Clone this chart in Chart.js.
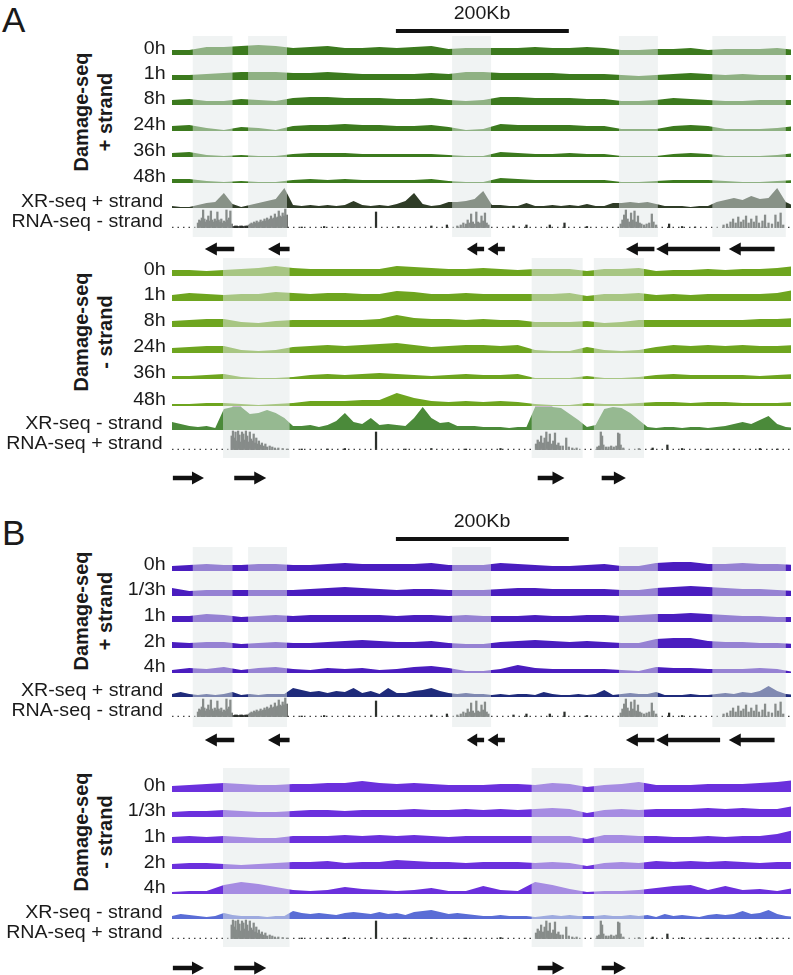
<!DOCTYPE html>
<html>
<head>
<meta charset="utf-8">
<script src="https://cdn.jsdelivr.net/npm/chart.js@4.4.1/dist/chart.umd.min.js"></script>
<style>
  body { margin: 0; background: #fff; }
  #fig { position: relative; width: 793px; height: 975px; overflow: hidden;
         font-family: "Liberation Sans", Arial, sans-serif; color: #1a1a1a; }
  #fig canvas { position: absolute; left: 0; }
  .lab { position: absolute; font-size: 18.5px; line-height: 18.5px; white-space: nowrap;
         transform-origin: right center; transform: scaleX(1.06); }
  .side { position: absolute; font-weight: bold; font-size: 20px; line-height: 24px; text-align: center;
          white-space: nowrap; transform: translate(-50%, -50%) rotate(-90deg); }
  .panel { position: absolute; left: 2px; font-size: 35px; line-height: 35px; }
  .bar-lab { position: absolute; font-size: 18.5px; line-height: 18.5px; white-space: nowrap;
             transform: translateX(-50%) scaleX(1.06); }
</style>
</head>
<body>
<div id="fig">
  <div class="panel" style="top:2px">A</div>
  <div class="panel" style="top:515px">B</div>
  <div class="side" style="left:93px;top:112px">Damage-seq<br>+ strand</div>
  <div class="side" style="left:93px;top:332px">Damage-seq<br>- strand</div>
  <div class="side" style="left:93px;top:611px">Damage-seq<br>+ strand</div>
  <div class="side" style="left:93px;top:832px">Damage-seq<br>- strand</div>
</div>
<script>
// ---- genomic bins (kb) ----
const pos20 = [0,20,40,60,80,100,120,140,160,180,200,220,240,260,280,300,320,340,360,380,400,420,440,460,480,500,520,540,560,580,600,620,640,660,680,700,720];
const pos10 = [0,10,20,30,40,50,60,70,80,90,100,110,120,130,140,150,160,170,180,190,200,210,220,230,240,250,260,270,280,290,300,310,320,330,340,350,360,370,380,390,400,410,420,430,440,450,460,470,480,490,500,510,520,530,540,550,560,570,580,590,600,610,620,630,640,650,660,670,680,690,700,710,720];

const timesA = ['0h', '1h', '8h', '24h', '36h', '48h'];
const timesB = ['0h', '1/3h', '1h', '2h', '4h'];

// ---- A: Damage-seq + strand ----
const aPlus0h  = [5,5,8,8,9,10,9,7,8,9,7,7,8,7,8,9,6,7,7,7,7,8,7,7,8,7,5,5,6,6,7,5,6,6,6,7,5];
const aPlus1h  = [5,5,6,7,8,8,8,7,7,8,7,6,6,6,6,7,6,8,8,7,7,7,7,6,6,6,5,4,5,6,7,6,5,6,5,5,5];
const aPlus8h  = [5,6,4,4,6,5,4,7,8,8,7,7,7,6,6,7,5,4,5,8,8,7,7,7,6,6,4,4,5,7,6,5,4,4,5,5,5];
const aPlus24h = [5,6,3,1,4,3,1,5,6,6,7,6,6,5,5,6,4,1,2,7,6,6,6,6,5,5,2,2,2,5,6,5,2,2,2,3,5];
const aPlus36h = [4,5,2,1,2,1,1,3,4,4,4,3,3,3,3,3,2,1,1,5,4,3,3,4,3,3,1,1,1,3,4,3,1,1,1,2,4];
const aPlus48h = [4,4,2,1,2,1,1,3,4,3,4,3,3,3,3,4,2,1,1,5,4,3,3,3,3,3,1,1,2,3,3,3,2,1,1,2,3];
const aXrPlus  = [2,1,1,3,5,6,15,4,1,3,5,7,9,20,3,2,3,2,3,2,3,7,3,2,3,2,4,7,15,4,2,3,6,6,7,9,17,3,3,2,2,5,2,2,3,2,3,2,4,2,2,5,5,6,5,6,4,2,2,2,1,2,2,6,8,10,8,12,9,10,20,6,2];

// ---- A: Damage-seq - strand ----
const aMinus0h  = [6,6,5,6,7,8,10,8,7,7,7,7,7,10,9,8,7,7,8,7,6,7,7,7,5,7,7,8,5,6,6,7,6,7,7,8,10];
const aMinus1h  = [6,8,7,6,7,7,9,8,7,8,8,7,7,10,9,7,7,8,7,7,7,7,7,8,5,7,7,8,6,7,6,7,7,7,7,8,11];
const aMinus8h  = [6,7,8,8,5,4,6,7,7,7,7,7,8,12,9,8,8,7,8,7,7,5,5,5,6,4,5,7,7,7,7,7,7,7,8,8,9];
const aMinus24h = [5,6,7,7,3,2,3,6,7,8,7,8,9,10,8,6,7,8,8,7,8,3,2,2,6,3,2,3,6,8,7,8,7,8,7,7,8];
const aMinus36h = [3,3,4,5,2,1,1,2,4,5,4,5,6,5,4,3,4,5,4,4,5,1,1,1,3,1,1,2,4,5,4,4,4,4,3,4,5];
const aMinus48h = [2,2,3,3,2,1,2,3,5,5,5,6,6,13,8,5,4,5,4,5,4,2,1,1,3,2,2,3,4,4,3,4,4,3,3,3,4];
const aXrMinus  = [8,6,4,3,4,2,21,23,23,16,17,20,17,12,4,4,5,3,5,9,17,8,6,12,5,6,5,4,12,23,12,7,8,4,4,4,3,3,3,2,3,3,23,23,23,22,16,10,3,5,21,23,22,17,10,3,2,3,3,2,3,3,2,3,4,6,8,6,10,14,6,3,2];
const xrSaturation = 23;

// ---- B: Damage-seq + strand ----
const bPlus0h  = [5,6,7,6,6,7,7,6,6,7,8,7,7,7,7,8,6,6,6,8,7,6,5,5,6,7,5,5,8,9,9,7,7,8,7,7,6];
const bPlus20m = [8,5,6,6,6,6,6,6,7,8,9,8,7,6,7,7,6,6,6,7,8,8,7,7,7,7,6,6,8,9,10,9,8,7,7,6,5];
const bPlus1h  = [6,6,8,7,5,6,7,6,7,7,7,7,7,6,7,7,6,7,6,6,6,7,6,6,7,7,6,7,8,8,9,8,7,6,6,5,5];
const bPlus2h  = [6,5,6,6,4,5,6,5,5,6,7,8,7,6,6,7,5,4,4,6,7,8,7,6,7,6,5,5,9,10,10,7,6,6,5,5,4];
const bPlus4h  = [3,5,4,6,3,5,6,4,3,5,4,5,3,4,6,7,5,2,2,4,8,5,4,4,4,4,3,2,6,5,5,4,4,4,5,4,1];
const bXrPlus  = [3,5,3,2,3,2,3,5,2,3,2,3,3,3,9,7,5,6,4,6,5,9,4,6,3,9,4,4,6,7,9,6,4,3,4,3,3,2,3,2,3,3,2,5,3,2,2,3,2,3,7,2,3,4,3,3,5,2,2,2,3,2,2,3,4,3,5,4,6,11,6,3,2];

// ---- B: Damage-seq - strand ----
const bMinus0h  = [6,7,8,9,8,7,7,8,8,9,9,11,9,8,9,8,7,7,7,8,8,7,9,8,5,7,8,10,7,7,7,8,8,8,9,10,12];
const bMinus20m = [5,6,6,7,6,5,5,6,7,7,6,7,7,7,8,7,7,8,7,8,7,8,9,8,4,7,8,7,8,8,8,9,8,9,8,8,11];
const bMinus1h  = [6,7,6,7,6,5,5,7,7,7,8,7,8,7,8,7,6,7,7,7,7,7,7,7,4,8,8,7,7,6,6,7,6,7,7,9,13];
const bMinus2h  = [5,6,6,5,4,5,6,7,7,8,6,7,7,9,8,7,7,6,7,7,7,6,7,6,3,6,7,6,8,7,8,7,8,7,6,7,7];
const bMinus4h  = [2,3,3,9,12,10,7,4,3,4,7,5,4,3,4,6,3,3,8,4,3,12,9,5,2,3,3,4,6,8,9,4,8,4,5,3,6];
const bXrMinus  = [3,5,4,3,2,3,6,4,3,3,3,2,3,3,8,6,5,6,5,4,6,7,6,5,7,5,6,4,7,8,9,7,5,6,5,4,3,3,4,3,3,3,2,3,4,3,4,3,3,3,4,3,3,4,3,4,2,5,3,4,3,2,4,5,4,5,8,5,6,9,5,3,2];

// ---- RNA-seq reads [kb, signal] ----
const rnaMinus = [[30,5],[31.5,8],[33,7],[34.5,10],[36,18],[37.5,9],[39,6],[40.5,8],[42,12],[43.5,7],[45,17],[46.5,8],[48,6],[49.5,9],[51,7],[52.5,16],[54,8],[55.5,6],[57,9],[58.5,5],[60,7],[61.5,6],[63,18],[64.5,8],[66,10],[67.5,17],[69,4],
  [71,1.5],[73,2],[75,2],[77,1.5],[79,2],[81,2],[83,1.5],[85,2],[87,2],
  [89,3],[90.5,4],[92,5],[93.5,4],[95,6],[96.5,5],[98,7],[99.5,5],[101,6],[102.5,8],[104,6],[105.5,7],[107,9],[108.5,7],[110,10],[111.5,8],[113,9],[114.5,12],[116,9],[117.5,10],[119,14],[120.5,10],[122,11],[123.5,17],[125,12],[126.5,11],[128,15],[129.5,12],[131,19],[132.5,13],
  [150,1],[176,1.5],[205,1],[236,16],[262,1.5],[300,2],[318,3],
  [330,2],[334,3],[337,5],[340,4],[342,8],[344,5],[346,14],[348,6],[350,4],[352,16],[354,6],[356,5],[358,12],[360,7],[362,15],[364,5],[366,3],
  [395,2],[410,3],[437,3],[454,5],[480,1.5],
  [519,4],[521,8],[523,13],[525,18],[527,9],[529,6],[531,15],[533,8],[535,17],[537,6],[539,12],[541,5],[543,4],[546,3],[549,4],[552,5],[555,14],[557,6],[560,3],
  [575,4],[590,1.5],[605,1],
  [638,3],[642,4],[646,6],[649,9],[652,5],[655,11],[658,6],[661,8],[664,12],[667,5],[670,9],[673,6],[676,12],[679,5],[683,7],[686,13],[690,5],[694,4],[698,13],[701,6],[704,15],[707,3]];
const rnaPlus = [[69,14],[70.5,19],[72,12],[73.5,18],[75,9],[76.5,19],[78,15],[79.5,8],[81,18],[82.5,16],[84,10],[85.5,19],[87,14],[88.5,8],[90,18],[91.5,11],[93,9],[94.5,16],[96,7],[97.5,12],[99,6],[100.5,9],[102,5],[104,7],[106,4],[108,6],[110,3],[113,4],[116,3],[119,2],[123,2],[128,1.5],[133,1],
  [150,1],[180,1],[200,1.5],[236,18],[270,1],[300,1.5],[340,1],[380,1.5],
  [421,6],[423,10],[425,8],[427,14],[429,7],[431,12],[433,18],[435,8],[437,16],[439,6],[441,9],[443,17],[445,5],[447,7],[449,4],[452,4],[456,12],[459,3],[463,2],[468,2],
  [492,3],[494,4],[496,18],[497.5,14],[499,5],[502,3],[505,3],[508,4],[511,3],[514,4],[516,17],[517.5,16],[519,5],[522,2],
  [540,1.5],[556,2],[573,5],[590,1.5],[620,1],[650,1],[680,1.5],[700,1]];

// ---- annotation (kb) ----
const tsMinus = [[24,70],[88,133],[324,369],[517,562],[625,710]];   // minus-strand genes, shaded
const tsPlus = [[59,136],[416,475],[488,546]];                       // plus-strand genes, shaded
const genesMinus = [[38,72],[111,136],[341,361],[365,385],[525,558],[560,634],[644,697]];
const genesPlus = [[1,37],[72,109],[423,454],[497,525]];
const scaleBar = [259, 459];  // 200 kb

const fig = document.getElementById('fig');
const capColor = '#b08ab8';

const trackDecor = {
  id: 'trackDecor',
  afterDatasetsDraw(chart, args, o) {
    const { ctx, chartArea, scales: { x } } = chart;
    ctx.save();
    // shaded gene boxes lie over the tracks
    ctx.fillStyle = 'rgba(226,231,231,0.5)';
    const y0 = chartArea.top + o.shadeY[0];
    const y1 = chartArea.bottom + o.shadeY[1];
    o.regions.forEach(([a, b]) => {
      const x0 = x.getPixelForValue(a), x1 = x.getPixelForValue(b);
      ctx.fillRect(x0, y0, x1 - x0, y1 - y0);
    });
    // gene arrows
    ctx.fillStyle = '#111';
    const ay = chartArea.bottom + o.arrowY;
    o.genes.forEach(([a, b]) => {
      const x0 = x.getPixelForValue(a), x1 = x.getPixelForValue(b);
      const tip = o.strand < 0 ? x0 : x1;
      const tail = o.strand < 0 ? x1 : x0;
      const neck = tip - o.strand * Math.min(12, Math.abs(x1 - x0) * 0.6);
      ctx.beginPath();
      ctx.moveTo(tail, ay - 2.3);
      ctx.lineTo(neck, ay - 2.3);
      ctx.lineTo(neck, ay - 6.5);
      ctx.lineTo(tip, ay);
      ctx.lineTo(neck, ay + 6.5);
      ctx.lineTo(neck, ay + 2.3);
      ctx.lineTo(tail, ay + 2.3);
      ctx.closePath();
      ctx.fill();
    });
    // scale bar
    if (o.bar != null) {
      const b0 = x.getPixelForValue(scaleBar[0]), b1 = x.getPixelForValue(scaleBar[1]);
      ctx.fillStyle = '#111';
      ctx.fillRect(b0, chartArea.top + o.bar - 2, b1 - b0, 4);
    }
    ctx.restore();
  }
};

function addLabel(text, right, baseline) {
  const d = document.createElement('div');
  d.className = 'lab';
  d.textContent = text;
  d.style.right = (793 - right) + 'px';
  d.style.top = (baseline - 15.7) + 'px';
  fig.appendChild(d);
}

function makeGroup(g) {
  const cv = document.createElement('canvas');
  cv.width = 793;
  cv.height = g.height;
  cv.style.top = g.top + 'px';
  fig.appendChild(cv);

  const scales = { x: { type: 'linear', min: 0, max: 716, display: false, offset: false } };
  const datasets = [];
  g.tracks.forEach((t, i) => {
    const id = 'y' + i;
    scales[id] = { type: 'linear', position: 'right', stack: 'tracks', stackWeight: t.h, weight: i,
                   min: 0, max: t.h, display: false };
    if (t.kind === 'rna') {
      datasets.push({ type: 'line', yAxisID: id, data: [{ x: 0, y: 0.6 }, { x: 716, y: 0.6 }],
                      borderColor: '#444', borderWidth: 1.2, borderDash: [1.5, 4], pointRadius: 0, fill: false });
      datasets.push({ type: 'bar', yAxisID: id, data: t.values.map(([x, y]) => ({ x, y })),
                      backgroundColor: '#2c302c', barThickness: 1.6, grouped: false, borderWidth: 0 });
    } else {
      datasets.push({ type: 'line', yAxisID: id, data: t.xs.map((x, k) => ({ x, y: t.values[k] })),
                      backgroundColor: t.color, borderColor: 'rgba(0,0,0,0)', borderWidth: 0,
                      fill: 'origin', pointRadius: 0, tension: 0 });
      if (t.cap) {
        // saturated bins get the cap mark on top
        datasets.push({ type: 'line', yAxisID: id,
                        data: t.xs.map((x, k) => ({ x, y: t.values[k] >= t.cap ? t.values[k] : null })),
                        borderColor: capColor, borderWidth: 2.5, pointRadius: 0, fill: false,
                        spanGaps: false, borderCapStyle: 'butt' });
      }
    }
  });

  const chart = new Chart(cv, {
    type: 'line',
    data: { datasets },
    options: {
      responsive: false,
      animation: false,
      events: [],
      layout: { padding: { left: 172, right: 2, top: g.pad[0], bottom: g.pad[1] } },
      scales,
      plugins: {
        legend: { display: false },
        tooltip: { enabled: false },
        trackDecor: { regions: g.shade, shadeY: g.shadeY, genes: g.genes, strand: g.strand,
                      arrowY: g.arrowY, bar: g.bar }
      }
    },
    plugins: [trackDecor]
  });

  g.tracks.forEach((t, i) => {
    const s = chart.scales['y' + i];
    addLabel(t.name, t.kind === 'damage' ? 166 : 163, g.top + s.bottom);
  });
  if (g.bar != null) {
    const d = document.createElement('div');
    d.className = 'bar-lab';
    d.textContent = '200Kb';
    d.style.left = chart.scales.x.getPixelForValue((scaleBar[0] + scaleBar[1]) / 2) + 'px';
    d.style.top = (g.top + chart.chartArea.top + g.bar - 11 - 15.7) + 'px';
    fig.appendChild(d);
  }
}

function damage(names, series, heights, color) {
  return series.map((v, i) => ({ name: names[i], kind: 'damage', xs: pos20, values: v, h: heights[i], color }));
}

makeGroup({
  top: 0, height: 262, pad: [30, 34], shade: tsMinus, shadeY: [6, 9],
  genes: genesMinus, strand: -1, arrowY: 21, bar: 1,
  tracks: damage(timesA, [aPlus0h, aPlus1h, aPlus8h, aPlus24h, aPlus36h, aPlus48h], [25, 25, 25, 26, 26, 26], '#3c7a1e').concat([
    { name: 'XR-seq + strand', kind: 'xr', xs: pos10, values: aXrPlus, h: 25, color: '#2f3c27' },
    { name: 'RNA-seq - strand', kind: 'rna', values: rnaMinus, h: 20 }
  ])
});

makeGroup({
  top: 245, height: 245, pad: [6, 40], shade: tsPlus, shadeY: [7, 8],
  genes: genesPlus, strand: 1, arrowY: 28, bar: null,
  tracks: damage(timesA, [aMinus0h, aMinus1h, aMinus8h, aMinus24h, aMinus36h, aMinus48h], [25, 25, 26, 26, 26, 27], '#6ea51f').concat([
    { name: 'XR-seq - strand', kind: 'xr', xs: pos10, values: aXrMinus, h: 24, color: '#4b8a3a', cap: xrSaturation },
    { name: 'RNA-seq + strand', kind: 'rna', values: rnaPlus, h: 20 }
  ])
});

makeGroup({
  top: 495, height: 255, pad: [51, 33], shade: tsMinus, shadeY: [1, 10],
  genes: genesMinus, strand: -1, arrowY: 23, bar: -7,
  tracks: damage(timesB, [bPlus0h, bPlus20m, bPlus1h, bPlus2h, bPlus4h], [25, 25, 26, 26, 25], '#4a1dbf').concat([
    { name: 'XR-seq + strand', kind: 'xr', xs: pos10, values: bXrPlus, h: 24, color: '#1f2b7b' },
    { name: 'RNA-seq - strand', kind: 'rna', values: rnaMinus, h: 20 }
  ])
});

makeGroup({
  top: 750, height: 225, pad: [17, 36], shade: tsPlus, shadeY: [1, 8],
  genes: genesPlus, strand: 1, arrowY: 29, bar: null,
  tracks: damage(timesB, [bMinus0h, bMinus20m, bMinus1h, bMinus2h, bMinus4h], [25, 25, 26, 26, 25], '#6b30dd').concat([
    { name: 'XR-seq - strand', kind: 'xr', xs: pos10, values: bXrMinus, h: 25, color: '#5a6dd6' },
    { name: 'RNA-seq + strand', kind: 'rna', values: rnaPlus, h: 20 }
  ])
});
</script>
</body>
</html>
